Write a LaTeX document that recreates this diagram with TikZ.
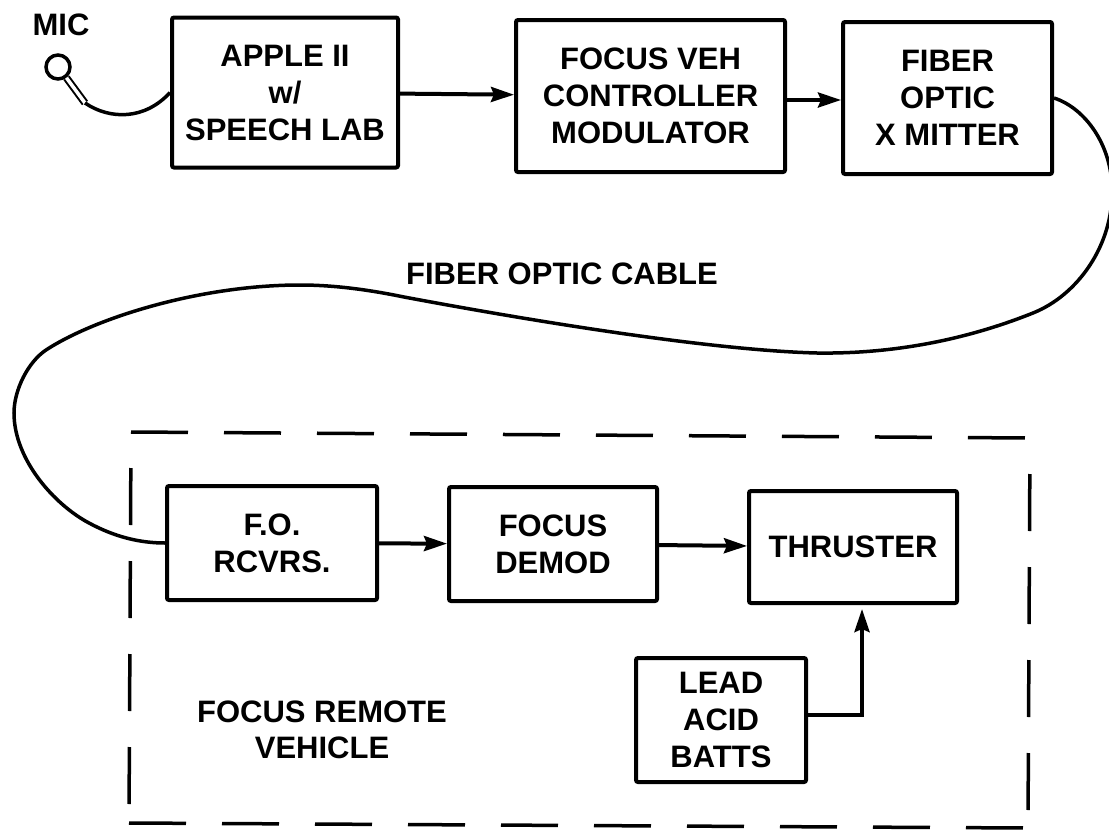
\documentclass[tikz,border=0pt]{standalone}
\usepackage{fontspec}
\setmainfont{Liberation Sans}
\usetikzlibrary{arrows.meta, positioning}
\tikzset{
  sys node/.style={
    rectangle, rounded corners=2pt, draw=black, line width=4pt, fill=white,
    align=center, inner sep=0pt,
    font=\fontsize{31}{37}\selectfont\bfseries
  },
  sys label/.style={
    align=center, inner sep=0pt,
    font=\fontsize{31}{36}\selectfont\bfseries
  },
  sys arrow/.style={
    -{Stealth[length=23pt,width=15pt,inset=3pt]}, line width=4pt, draw=black
  },
  sys cable/.style={
    line width=3.5pt, draw=black
  },
  sys frame/.style={
    line width=3.5pt, draw=black, dash pattern=on 57pt off 36pt
  }
}

\begin{document}
\begin{tikzpicture}[x=1pt, y=-1pt]
  \useasboundingbox (0,0) rectangle (1109,830);

  % ground side
  \node (apple) [sys node, minimum width=226pt, minimum height=150pt] at (285,92.5) {APPLE II\\w/\\SPEECH LAB};
  \node (focus) [sys node, minimum width=269pt, minimum height=152pt, right=114pt of apple, yshift=-3.5pt] {FOCUS VEH\\CONTROLLER\\MODULATOR};
  \node (xmit) [sys node, minimum width=209pt, minimum height=152pt, right=54pt of focus, yshift=-2pt] {FIBER\\OPTIC\\X MITTER};

  \node (mic) [circle, draw=black, line width=3.5pt, minimum size=24pt, inner sep=0pt] at (58,67) {};
  \node (miclabel) [sys label] at (61,25) {MIC};
  \coordinate (handle) at (85,103);
  \node (cablelabel) [sys label] at (562,274) {FIBER OPTIC CABLE};

  % vehicle side
  \coordinate (frame nw) at (131,432);
  \coordinate (frame ne) at (1030,438);
  \coordinate (frame se) at (1028,828);
  \coordinate (frame sw) at (129,823);
  \draw [sys frame] (frame nw) -- (frame ne);
  \draw [sys frame] (frame sw) -- (frame se);
  \draw [sys frame, dash phase=57pt] (frame nw) -- (frame sw);
  \draw [sys frame, dash phase=57pt] (frame ne) -- (frame se);

  \node (rcvrs) [sys node, minimum width=210pt, minimum height=114pt] at (272,543) {F.O.\\RCVRS.};
  \node (demod) [sys node, minimum width=208pt, minimum height=114pt, right=68pt of rcvrs, yshift=-1pt] {FOCUS\\DEMOD};
  \node (thruster) [sys node, minimum width=208pt, minimum height=112pt, right=88pt of demod, yshift=-3pt] {THRUSTER};
  \node (batts) [sys node, minimum width=170pt, minimum height=124pt] at (721,720) {LEAD\\ACID\\BATTS};
  \node (vehlabel) [sys label] at (322,730) {FOCUS REMOTE\\VEHICLE};

  \draw [line width=2pt, double=white, double distance=3.5pt] (mic.-52) -- (handle);
  \draw [sys cable] (handle) .. controls (110,120) and (145,120) .. (apple.west);
  \draw [sys arrow] (apple) -- (focus);
  \draw [sys arrow] ([yshift=-4pt]focus.east) -- ([yshift=-2pt]xmit.west);
  \draw [sys arrow] (rcvrs) -- (demod);
  \draw [sys arrow] (demod) -- (thruster);
  \draw [sys arrow] ([yshift=5pt]batts.east) -| ([xshift=9pt,yshift=-4pt]thruster.south);
  \draw [sys cable] (xmit.east) .. controls (1085,108) and (1112,145) .. (1112,190)
    .. controls (1113,245) and (1078,295) .. (1033,313)
    .. controls (963,341) and (890,354) .. (817,353)
    .. controls (700,350) and (500,315) .. (404,297)
    .. controls (370,290) and (335,285) .. (300,285)
    .. controls (200,285) and (95,318) .. (46,350)
    .. controls (28,362) and (14,390) .. (14,413)
    .. controls (14,460) and (55,505) .. (89,523)
    .. controls (115,537) and (140,543) .. (rcvrs.west);
\end{tikzpicture}
\end{document}
